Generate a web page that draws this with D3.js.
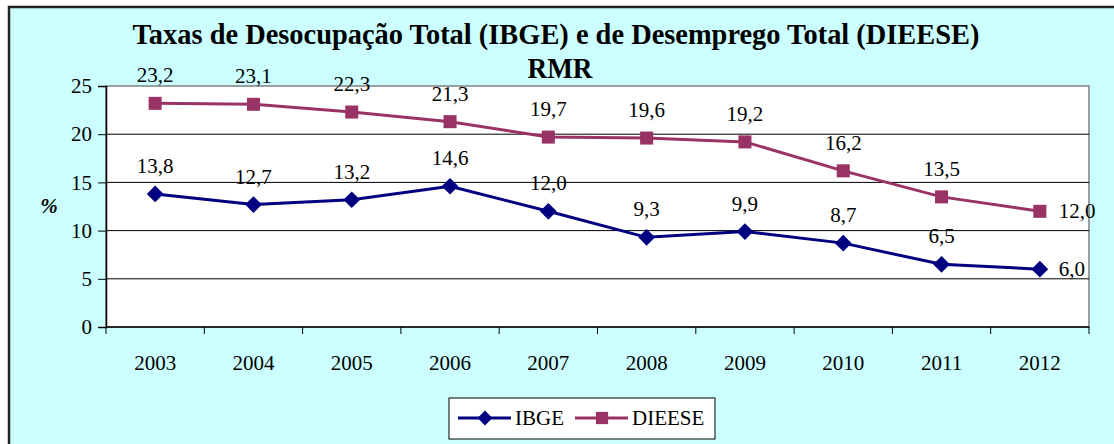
<!DOCTYPE html>
<html>
<head>
<meta charset="utf-8">
<script src="https://cdn.jsdelivr.net/npm/d3@7"></script>
<style>
  body { margin: 0; background: #fff; }
  svg { display: block; font-family: "Liberation Serif", "Times New Roman", serif; }
</style>
</head>
<body>
<svg id="chart" width="1114" height="444"></svg>
<script>
var years = ["2003", "2004", "2005", "2006", "2007", "2008", "2009", "2010", "2011", "2012"];
var ibge = [13.8, 12.7, 13.2, 14.6, 12.0, 9.3, 9.9, 8.7, 6.5, 6.0];
var dieese = [23.2, 23.1, 22.3, 21.3, 19.7, 19.6, 19.2, 16.2, 13.5, 12.0];
var yTicks = [0, 5, 10, 15, 20, 25];

var svg = d3.select("#chart");
var W = 1114, H = 444;
var pL = 106, pR = 1089, pT = 86, pB = 327;

// chart area background and frame
svg.append("rect")
    .attr("x", 9).attr("y", 7)
    .attr("width", W).attr("height", H)
    .attr("fill", "#ccffff")
    .attr("stroke", "#222").attr("stroke-width", 2.5);

// title: tall, narrow bold serif
svg.append("text")
    .attr("x", 556).attr("y", 44)
    .attr("text-anchor", "middle")
    .attr("textLength", 847).attr("lengthAdjust", "spacingAndGlyphs")
    .style("font-size", "29px").style("font-weight", "bold")
    .text("Taxas de Desocupação Total (IBGE) e de Desemprego Total (DIEESE)");
svg.append("text")
    .attr("x", 560).attr("y", 78)
    .attr("text-anchor", "middle")
    .attr("textLength", 65).attr("lengthAdjust", "spacingAndGlyphs")
    .style("font-size", "29px").style("font-weight", "bold")
    .text("RMR");

var x = d3.scaleBand().domain(years).range([pL, pR]);
var y = d3.scaleLinear().domain([0, 25]).range([pB, pT]);

svg.append("rect")
    .attr("x", pL).attr("y", pT)
    .attr("width", pR - pL).attr("height", pB - pT)
    .attr("fill", "#fff")
    .attr("stroke", "#808080").attr("stroke-width", 1.5);

// gridlines
svg.selectAll(".grid")
    .data(yTicks.filter(function(d) { return d > 0 && d < 25; }))
    .enter().append("line")
    .attr("x1", pL).attr("x2", pR)
    .attr("y1", function(d) { return y(d); })
    .attr("y2", function(d) { return y(d); })
    .attr("stroke", "#000").attr("stroke-width", 1);

// y axis
var yAxis = svg.append("g")
    .attr("transform", "translate(" + pL + ",0)")
    .call(d3.axisLeft(y).tickValues(yTicks).tickSize(8).tickPadding(6).tickFormat(d3.format("d")));
yAxis.select(".domain").attr("stroke", "#000").attr("stroke-width", 1.5);
yAxis.selectAll(".tick line").attr("stroke", "#000");
yAxis.selectAll("text")
    .style("font-size", "21px").style("font-family", "Liberation Serif").attr("fill", "#000");

// x axis with ticks at band edges
svg.append("line")
    .attr("x1", pL).attr("x2", pR)
    .attr("y1", pB).attr("y2", pB)
    .attr("stroke", "#000").attr("stroke-width", 1.5);
var edges = years.map(function(d) { return x(d); }).concat([pR]);
svg.selectAll(".xtick")
    .data(edges)
    .enter().append("line")
    .attr("x1", function(d) { return d; }).attr("x2", function(d) { return d; })
    .attr("y1", pB).attr("y2", pB + 7)
    .attr("stroke", "#000");
svg.selectAll(".xlab")
    .data(years)
    .enter().append("text")
    .attr("x", function(d) { return x(d) + x.bandwidth() / 2; })
    .attr("y", 370)
    .attr("text-anchor", "middle")
    .style("font-size", "21px")
    .text(function(d) { return d; });

svg.append("text")
    .attr("x", 49).attr("y", 213)
    .attr("text-anchor", "middle")
    .style("font-size", "21px").style("font-weight", "bold").style("font-style", "italic")
    .text("%");

var cx = function(d, i) { return x(years[i]) + x.bandwidth() / 2; };
var line = d3.line()
    .x(function(d, i) { return cx(d, i); })
    .y(function(d) { return y(d); });

function fmt(v) { return v.toFixed(1).replace(".", ","); }

var series = [
    { name: "IBGE", values: ibge, color: "#000080", shape: "diamond" },
    { name: "DIEESE", values: dieese, color: "#993366", shape: "square" }
];

series.forEach(function(s) {
    svg.append("path")
        .datum(s.values)
        .attr("d", line)
        .attr("fill", "none")
        .attr("stroke", s.color).attr("stroke-width", 3);

    var sym = s.shape == "diamond"
        ? d3.symbol().type(d3.symbolSquare).size(140)
        : d3.symbol().type(d3.symbolSquare).size(170);
    svg.selectAll(".m" + s.name)
        .data(s.values)
        .enter().append("path")
        .attr("d", sym)
        .attr("transform", function(d, i) {
            return "translate(" + cx(d, i) + "," + y(d) + ")" + (s.shape == "diamond" ? " rotate(45)" : "");
        })
        .attr("fill", s.color);

    svg.selectAll(".l" + s.name)
        .data(s.values)
        .enter().append("text")
        .attr("x", function(d, i) { return i == years.length - 1 ? cx(d, i) + 19 : cx(d, i); })
        .attr("y", function(d, i) { return i == years.length - 1 ? y(d) + 7 : y(d) - 21; })
        .attr("text-anchor", function(d, i) { return i == years.length - 1 ? "start" : "middle"; })
        .style("font-size", "21px")
        .text(function(d) { return fmt(d); });
});

// legend
var lg = svg.append("g").attr("transform", "translate(449,398)");
lg.append("rect")
    .attr("width", 266).attr("height", 41)
    .attr("fill", "#fff").attr("stroke", "#000").attr("stroke-width", 1);
series.forEach(function(s, k) {
    var ox = k == 0 ? 9 : 126;
    lg.append("line")
        .attr("x1", ox).attr("x2", ox + 53)
        .attr("y1", 20).attr("y2", 20)
        .attr("stroke", s.color).attr("stroke-width", 3);
    lg.append("path")
        .attr("d", d3.symbol().type(d3.symbolSquare).size(s.shape == "diamond" ? 110 : 150)())
        .attr("transform", "translate(" + (ox + 27) + ",20)" + (s.shape == "diamond" ? " rotate(45)" : ""))
        .attr("fill", s.color);
    lg.append("text")
        .attr("x", ox + 57).attr("y", 27)
        .style("font-size", "21px")
        .text(s.name);
});
</script>
</body>
</html>
